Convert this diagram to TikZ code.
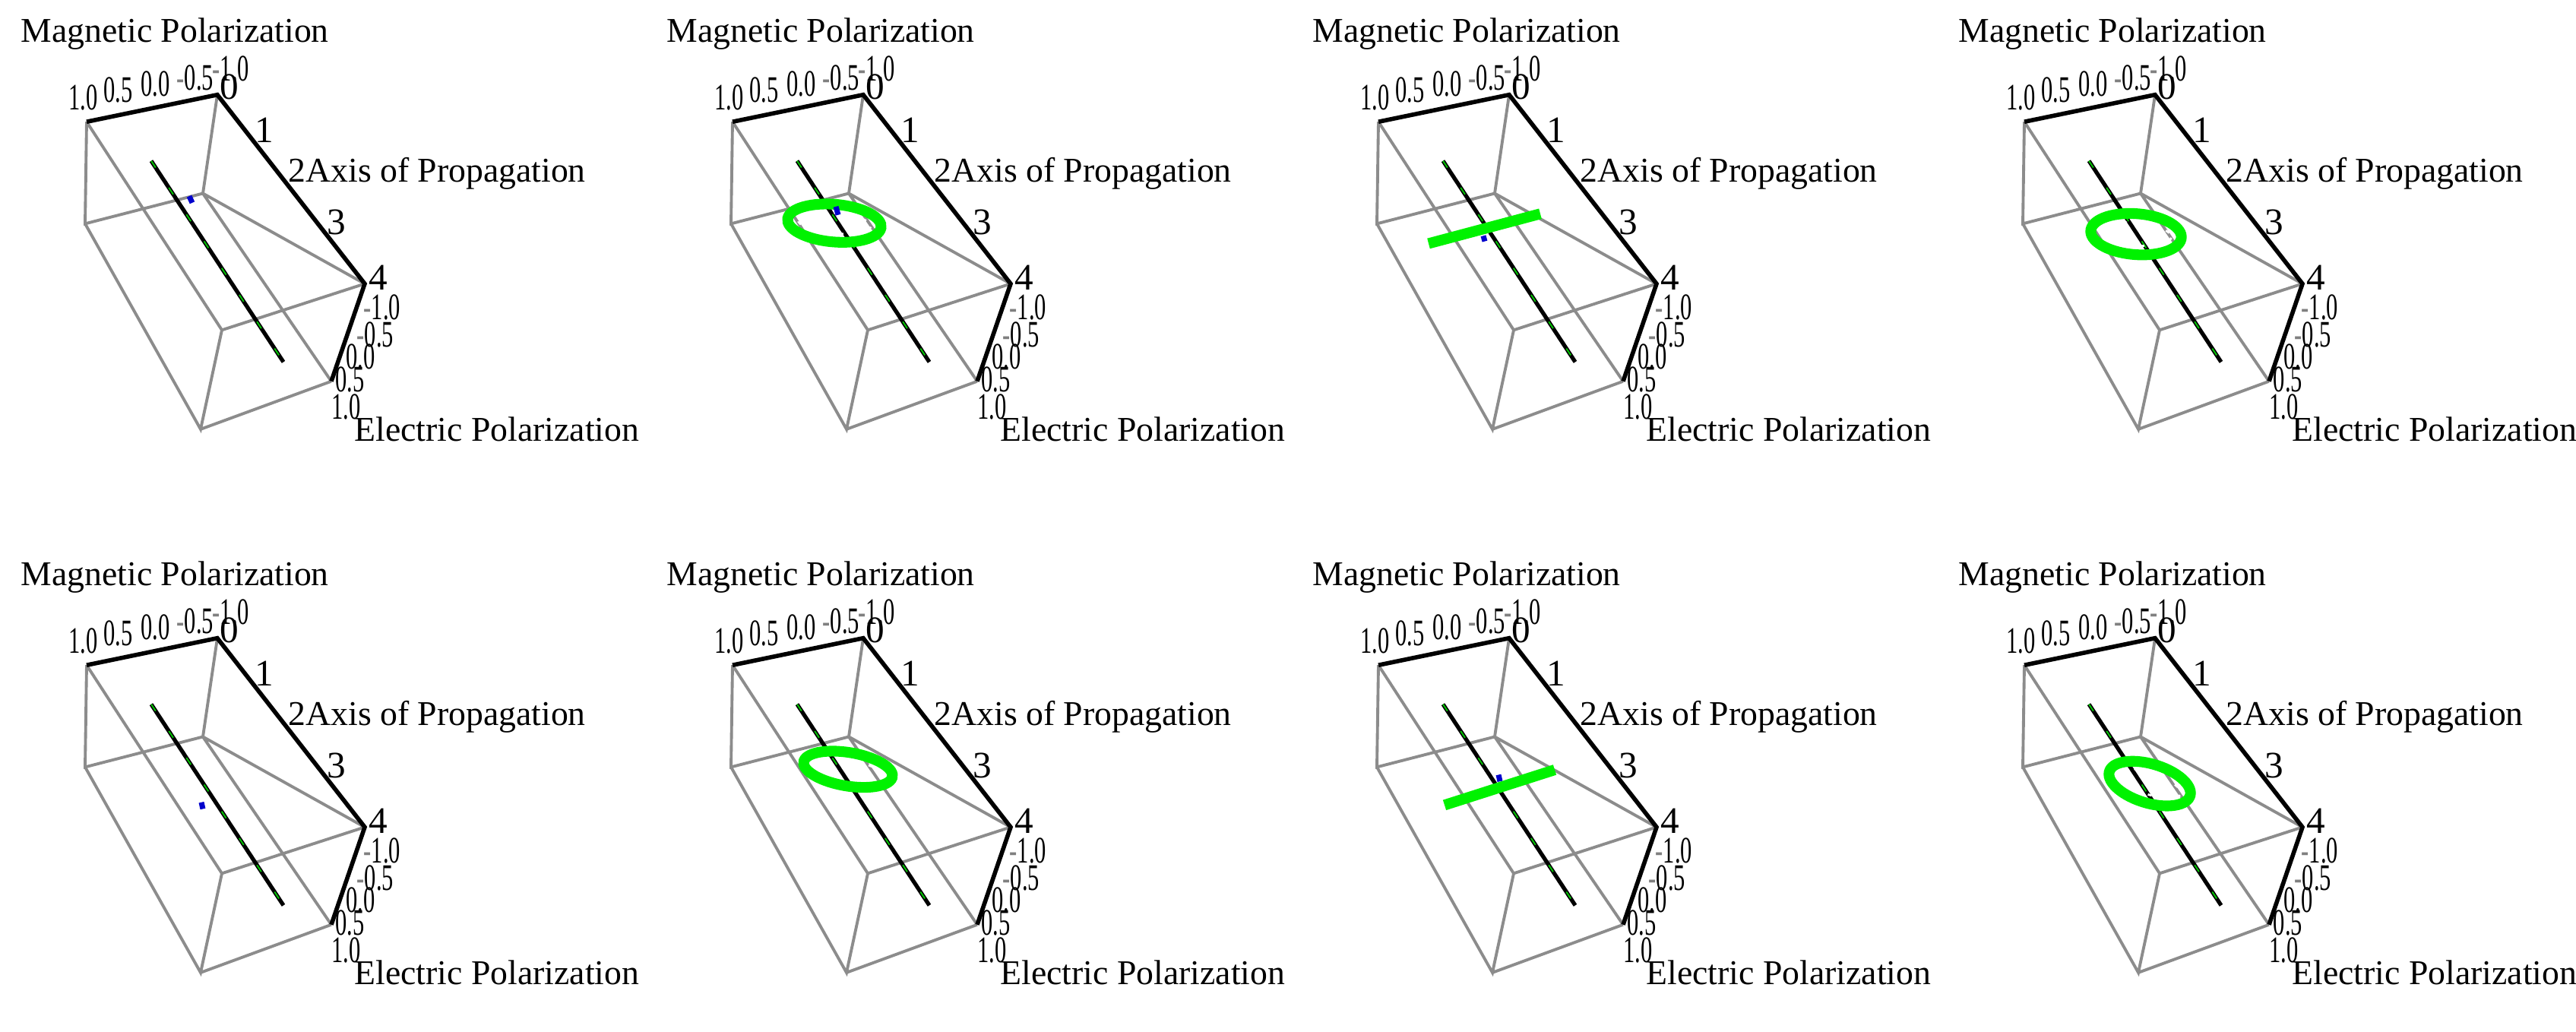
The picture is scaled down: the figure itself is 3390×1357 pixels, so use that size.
\documentclass[tikz,border=0pt]{standalone}
\usepackage{fontspec}
\setmainfont{Liberation Serif}
\begin{document}
\begin{tikzpicture}[x=0.01cm,y=-0.01cm,
  boxedge/.style={draw=gray!90,line width=1.1pt},
  axisline/.style={draw=black,line width=1.6pt},
  wave/.style={draw=black,line width=1.5pt},
  wavedash/.style={draw=green!80!black,line width=0.5pt,dash pattern=on 3pt off 9pt},
  ring/.style={draw=green!95!black,line width=4pt},
  ringdots/.style={draw=white,line width=0.8pt,dash pattern=on 1.5pt off 4pt},
  bar/.style={draw=green!95!black,line width=4pt},
  blue mark/.style={draw=blue!80!black,line width=2pt},
  ttl/.style={inner sep=0pt,anchor=base west,font=\fontsize{13}{13}\selectfont},
  tck/.style={inner sep=0pt,anchor=base west,font=\fontsize{14}{14}\selectfont}]
\useasboundingbox (0,0) rectangle (3390,1357);
\newcommand\nn[1]{\scalebox{0.62}[1]{#1}}
\newcommand\mn{{\color{gray}-}}
\newcommand\panelbox[3]{%
\begin{scope}[shift={(#1,#2)},yscale=0.725]
  \coordinate (A) at (114,221); \coordinate (B) at (286,172);
  \coordinate (G) at (267,351); \coordinate (F) at (112,406);
  \coordinate (C) at (480,515); \coordinate (H) at (292,599);
  \coordinate (E) at (264,779); \coordinate (D) at (436,692);
  \draw[boxedge] (A)--(F)--(G)--(B) (F)--(E)--(H)--(C) (E)--(D) (A)--(H) (G)--(D) (G)--(C);
  \draw[axisline] (A)--(B)--(C)--(D);
  \coordinate (W1) at (199,292); \coordinate (W2) at (373,657);
  \draw[wave] (W1)--(W2); \draw[wavedash] (W1)--(W2);
  #3
  \node[ttl] (mt) at (27,76) {Magnetic Polarization};
  \node[tck] (m1) at (90,199) {\nn{1.0}};
  \node[tck] (m2) at (136,185) {\nn{0.5}};
  \node[tck] (m3) at (185,174) {\nn{0.0}};
  \node[tck] (m4) at (232,163) {\nn{\mn0.5}};
  \node[tck] (m5) at (279,147) {\nn{\mn1.0}};
  \node[tck] (p0) at (289,180) {0};
  \node[tck] (p1) at (335,259) {1};
  \node[ttl] (pt) at (379,330) {2Axis of Propagation};
  \node[tck] (p3) at (430,425) {3};
  \node[tck] (p4) at (485,526) {4};
  \node[tck] (e1) at (478,580) {\nn{\mn1.0}};
  \node[tck] (e2) at (469,629) {\nn{\mn0.5}};
  \node[tck] (e3) at (455,670) {\nn{0.0}};
  \node[tck] (e4) at (441,711) {\nn{0.5}};
  \node[tck] (e5) at (436,760) {\nn{1.0}};
  \node[ttl] (et) at (466,801) {Electric Polarization};
\end{scope}}
\newcommand\ringat[5]{% cx cy rx ry rot
  \draw[ring,rotate around={#5:(#1,#2)}] (#1,#2) ellipse [x radius=#3, y radius=#4];
  \draw[ringdots,rotate around={#5:(#1,#2)}] (#1,#2) ellipse [x radius=#3*0.78, y radius=#4*0.55];}
% top row
\panelbox{0}{0}{\draw[blue mark] (249,356)--(253,368);}
\panelbox{850}{0}{\ringat{248}{405}{62}{34}{-8}\draw[blue mark] (250,375)--(253,390);}
\panelbox{1700}{0}{\draw[bar] (180,442)--(327,388);\draw[blue mark] (252,428)--(254,438);}
\panelbox{2550}{0}{\ringat{261}{425}{60}{37}{-8}}
% bottom row
\panelbox{0}{715}{\draw[blue mark] (265,470)--(267,482);}
\panelbox{850}{715}{\ringat{266}{410}{60}{30}{-15}}
\panelbox{1700}{715}{\draw[bar] (201,475)--(346,411);\draw[blue mark] (272,420)--(274,432);}
\panelbox{2550}{715}{\ringat{279}{436}{58}{34}{-28}}
\end{tikzpicture}
\end{document}
